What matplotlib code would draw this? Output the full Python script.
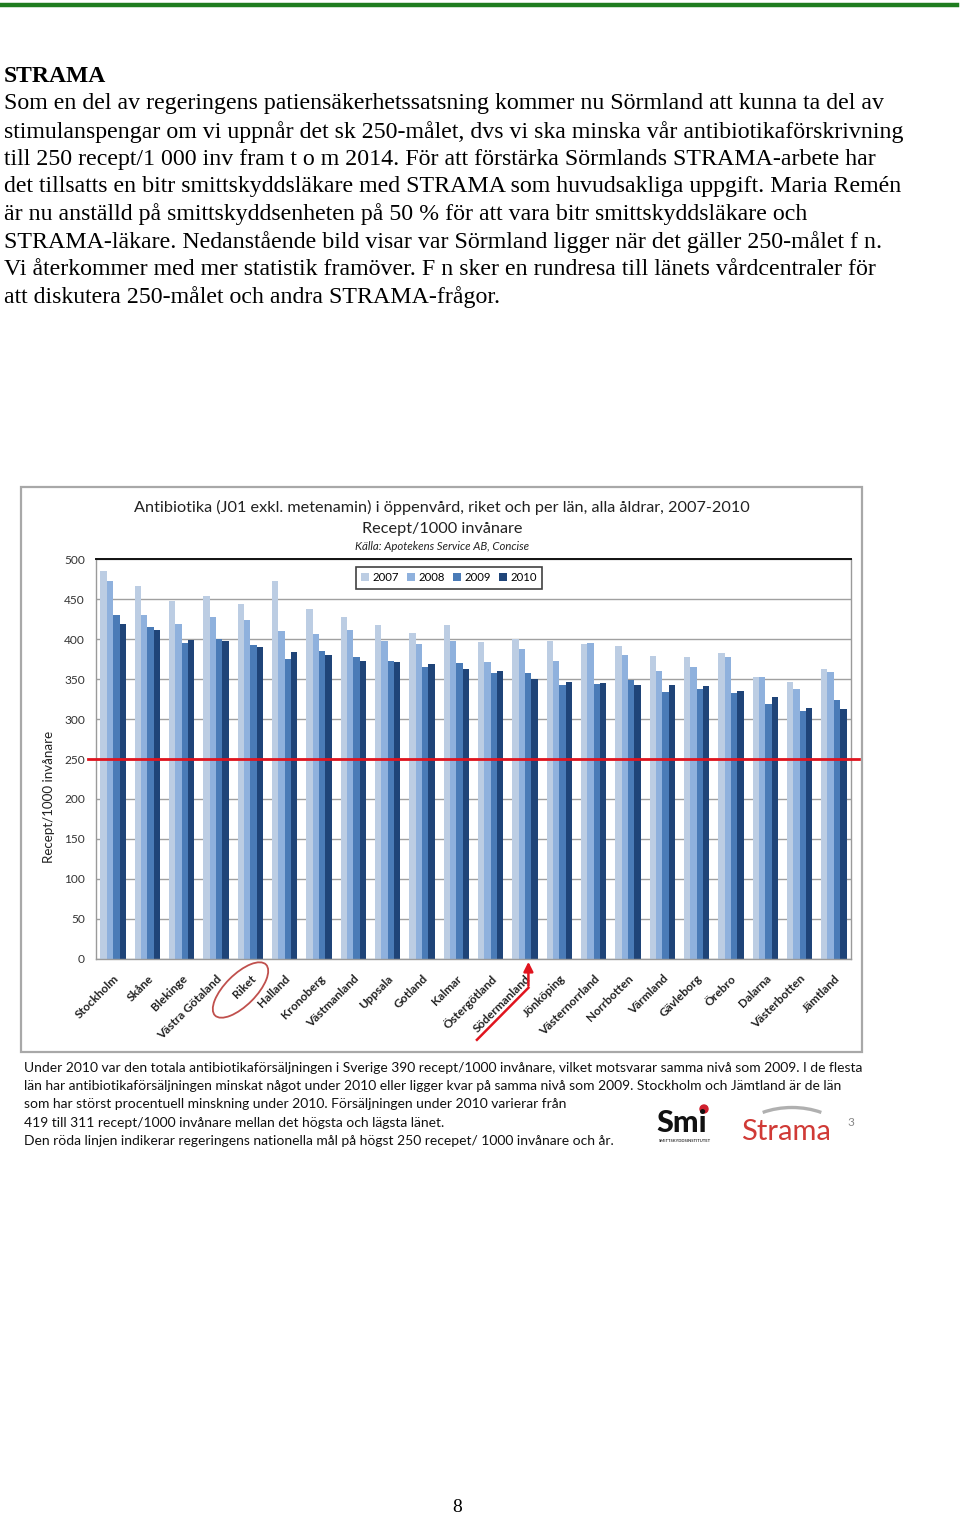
import matplotlib
matplotlib.use("Agg")
import matplotlib.pyplot as plt
import numpy as np
from matplotlib.patches import Rectangle, Ellipse, Arc
from matplotlib.lines import Line2D

# data (recept / 1000 invanare)
lan = ['Stockholm', 'Skåne', 'Blekinge', 'Västra Götaland', 'Riket', 'Halland',
       'Kronoberg', 'Västmanland', 'Uppsala', 'Gotland', 'Kalmar', 'Östergötland',
       'Södermanland', 'Jönköping', 'Västernorrland', 'Norrbotten', 'Värmland',
       'Gävleborg', 'Örebro', 'Dalarna', 'Västerbotten', 'Jämtland']
v2007 = [485, 466, 447, 454, 444, 473, 438, 427, 417, 408, 418, 396,
         400, 398, 394, 391, 379, 378, 382, 352, 346, 362]
v2008 = [472, 430, 419, 427, 424, 410, 406, 411, 397, 394, 397, 371,
         387, 373, 395, 380, 360, 365, 377, 352, 338, 359]
v2009 = [430, 415, 395, 400, 392, 375, 385, 377, 373, 365, 370, 358,
         357, 342, 344, 349, 334, 338, 333, 319, 310, 324]
v2010 = [419, 411, 399, 398, 390, 384, 380, 372, 371, 369, 362, 360,
         350, 346, 345, 343, 342, 341, 335, 327, 314, 312]
years = ['2007', '2008', '2009', '2010']
farger = ['#bccde3', '#8fb1dd', '#4a7bb7', '#1f4478']
mal = 250

W, H = 960, 1516
fig = plt.figure(figsize=(W / 100, H / 100), dpi=100)


def fx(x):
    return x / W


def fy(y):
    return 1 - y / H


# gron linje overst
fig.add_artist(Line2D([fx(2), fx(957)], [fy(5), fy(5)], color='#1f7d1f', lw=3.2))

# brodtext
serif = ['Liberation Serif', 'DejaVu Serif']
fig.text(fx(4), fy(76), 'STRAMA', family=serif, fontsize=17, weight='bold', va='center')
rader = [
    'Som en del av regeringens patiensäkerhetssatsning kommer nu Sörmland att kunna ta del av',
    'stimulanspengar om vi uppnår det sk 250-målet, dvs vi ska minska vår antibiotikaförskrivning',
    'till 250 recept/1 000 inv fram t o m 2014. För att förstärka Sörmlands STRAMA-arbete har',
    'det tillsatts en bitr smittskyddsläkare med STRAMA som huvudsakliga uppgift. Maria Remén',
    'är nu anställd på smittskyddsenheten på 50 % för att vara bitr smittskyddsläkare och',
    'STRAMA-läkare. Nedanstående bild visar var Sörmland ligger när det gäller 250-målet f n.',
    'Vi återkommer med mer statistik framöver. F n sker en rundresa till länets vårdcentraler för',
    'att diskutera 250-målet och andra STRAMA-frågor.',
]
for i, r in enumerate(rader):
    fig.text(fx(4), fy(104 + i * 27.6), r, family=serif, fontsize=17.2, va='center')

# ram runt diagrambilden
fig.add_artist(Rectangle((0.21, (H - 1052) / 100), 8.41, 5.65, transform=fig.dpi_scale_trans,
                         fill=False, ec='#a8a8a8', lw=1.6))

sans = ['Lato', 'DejaVu Sans']
fig.text(fx(442), fy(507), 'Antibiotika (J01 exkl. metenamin) i öppenvård, riket och per län, alla åldrar, 2007-2010',
         family=sans, fontsize=11.7, ha='center', va='center', color='#222222')
fig.text(fx(442), fy(529), 'Recept/1000 invånare', family=sans, fontsize=11.7,
         ha='center', va='center', color='#222222')
fig.text(fx(442), fy(547), 'Källa: Apotekens Service AB, Concise', family=sans, fontsize=8.2,
         style='italic', ha='center', va='center', color='#222222')

ax = fig.add_axes([fx(96), fy(959), fx(851) - fx(96), fy(559) - fy(959)])
x = np.arange(len(lan))
bw = 0.185
serier = [v2007, v2008, v2009, v2010]
for k, (vals, c, yr) in enumerate(zip(serier, farger, years)):
    ax.bar(x + (k - 1.5) * bw, vals, width=bw, color=c, label=yr, zorder=2, linewidth=0)

ax.set_xlim(-0.5, len(lan) - 0.5)
ax.set_ylim(0, 500)
ax.set_yticks(np.arange(0, 501, 50))
ax.yaxis.grid(True, color='#a0a0a0', lw=1.0, zorder=0)
ax.set_axisbelow(True)
ax.tick_params(axis='both', length=0, colors='#333333')
ax.tick_params(axis='y', pad=8, labelsize=8.6)
for t in ax.get_yticklabels():
    t.set_family(sans)
ax.set_xticks(x)
ax.set_xticklabels(lan, rotation=45, ha='right', rotation_mode='anchor',
                   family=sans, fontsize=8.6, weight='bold', color='#222222')
ax.tick_params(axis='x', pad=10)
ax.spines['top'].set_color('#111111')
ax.spines['top'].set_linewidth(1.4)
for s in ['left', 'bottom', 'right']:
    ax.spines[s].set_color('#9a9a9a')
    ax.spines[s].set_linewidth(1.0)
ax.set_ylabel('Recept/1000 invånare', family=sans, fontsize=9.6, color='#222222')
ax.yaxis.set_label_coords(-0.054, 0.405)

# malniva 250
trans = ax.get_yaxis_transform()
ax.plot([-0.01, 1.01], [mal, mal], color='#e0141e', lw=2.0, transform=trans, clip_on=False, zorder=4)

leg = ax.legend(loc='upper left', bbox_to_anchor=(fx(350), fy(561)), bbox_transform=fig.transFigure,
                ncol=4, frameon=True, fancybox=False, handlelength=0.7,
                handleheight=0.7, handletextpad=0.3, columnspacing=0.7, borderpad=0.5,
                prop={'family': sans, 'size': 8.2})
leg.get_frame().set_edgecolor('#111111')
leg.get_frame().set_linewidth(1.2)

# rod pil mot Sodermanland och ring kring Riket
isod = lan.index('Södermanland')
ax.plot([isod - 1.4, isod + 0.1], [-101, -36], color='#e0141e', lw=1.8, clip_on=False)
ax.annotate('', xy=(isod + 0.1, 0), xytext=(isod + 0.1, -37), xycoords='data',
            arrowprops=dict(arrowstyle='-|>', color='#e0141e', lw=1.8, mutation_scale=14),
            annotation_clip=False)
fig.add_artist(Ellipse((2.405, (H - 990) / 100), 0.72, 0.31, angle=45, transform=fig.dpi_scale_trans,
                       fill=False, ec='#c0504d', lw=1.3))

# text under diagrammet
under = [
    'Under 2010 var den totala antibiotikaförsäljningen i Sverige 390 recept/1000 invånare, vilket motsvarar samma nivå som 2009. I de flesta',
    'län har antibiotikaförsäljningen minskat något under 2010 eller ligger kvar på samma nivå som 2009. Stockholm och Jämtland är de län',
    'som har störst procentuell minskning under 2010. Försäljningen under 2010 varierar från',
    '419 till 311 recept/1000 invånare mellan det högsta och lägsta länet.',
    'Den röda linjen indikerar regeringens nationella mål på högst 250 recepet/ 1000 invånare och år.',
]
for i, r in enumerate(under):
    fig.text(fx(24), fy(1068 + i * 18.2), r, family=sans, fontsize=9.98, va='center', color='#111111')

# logotyper
fig.text(fx(656), fy(1123), 'Smi', family=sans, fontsize=22, weight='black', va='center', color='#111111')
fig.add_artist(Ellipse((7.04, (H - 1109) / 100), 0.08, 0.08, transform=fig.dpi_scale_trans,
                       color='#d0202e'))
fig.text(fx(685), fy(1141), 'SMITTSKYDDSINSTITUTET', family=sans, fontsize=3.0, weight='bold',
         ha='center', va='center', color='#333333')
fig.text(fx(741), fy(1132), 'Strama', family=sans, fontsize=21, va='center', color='#d03a36')
fig.add_artist(Arc((7.92, (H - 1150) / 100), 1.25, 0.85, theta1=52, theta2=128,
                   transform=fig.dpi_scale_trans, color='#b0b0b0', lw=2.4))
fig.text(fx(851), fy(1123), '3', family=sans, fontsize=8.5, va='center', ha='center', color='#888888')

fig.text(fx(457), fy(1508), '8', family=serif, fontsize=14, ha='center', va='center')

fig.savefig('out.png', dpi=100)
